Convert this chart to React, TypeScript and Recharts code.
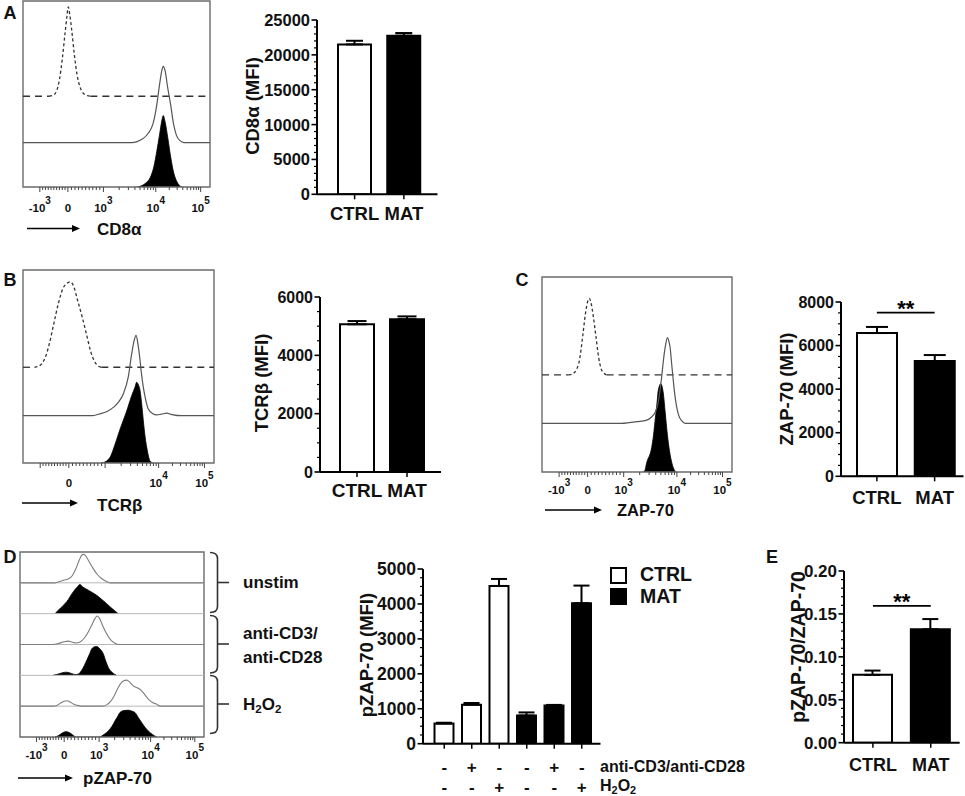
import React from 'react';
import {
  Area,
  Bar,
  BarChart,
  Cell,
  ComposedChart,
  ErrorBar,
  Line,
  ReferenceArea,
  ReferenceLine,
  XAxis,
  YAxis,
} from 'recharts';

const FONT = '"Liberation Sans", Arial, Helvetica, sans-serif';

// ---- bar chart values (mean, SEM) ----
const GROUPS = ['CTRL', 'MAT'];
const CD8A_MFI = [21500, 22750];
const CD8A_SEM = [520, 380];
const TCRB_MFI = [5065, 5235];
const TCRB_SEM = [110, 100];
const ZAP70_MFI = [6575, 5290];
const ZAP70_SEM = [280, 275];
const PZAP_GROUP = ['CTRL', 'CTRL', 'CTRL', 'MAT', 'MAT', 'MAT'];
const PZAP_MFI = [575, 1115, 4515, 805, 1095, 4020];
const PZAP_SEM = [25, 50, 200, 90, 15, 505];
const CD3_SIGNS = ['-', '+', '-', '-', '+', '-'];
const H2O2_SIGNS = ['-', '-', '+', '-', '-', '+'];
const RATIO = [0.079, 0.132];
const RATIO_SEM = [0.005, 0.012];

// ---- histogram x axis, in % of the plot width ----
const HX_MAJOR = [9, 24, 43, 71, 95];
const HX_LABELS = [['-10', '3'], ['0', ''], ['10', '3'], ['10', '4'], ['10', '5']];
const HX_MINOR: number[] = [];
for (let k = 1; k < 10; k++) {
  HX_MINOR.push(9 + (24 - 9) * k / 10);
  HX_MINOR.push(24 + (43 - 24) * k / 10);
}
for (const [a, b] of [[43, 71], [71, 95]]) {
  for (let k = 2; k < 10; k++) HX_MINOR.push(a + (b - a) * Math.log10(k));
}

// ---- histogram curves: [x %, height % of box] ----
const A_ISO = [[14, 0], [16, 0.5], [18, 3], [19.5, 9], [21, 20], [22.5, 34], [23.5, 43], [24.2, 48], [25, 44], [26, 36], [27.5, 22], [29, 11], [30.5, 5], [32, 2], [34, 0.5], [36, 0]];
const A_CTRL = [[0, 0], [58, 0], [61, 0.5], [64, 2], [67, 5], [69.5, 10], [71.5, 20], [73, 31], [74.2, 38.5], [75, 41], [76, 38.5], [77.3, 30], [79, 20], [80.5, 10], [82, 4], [84, 1], [86, 0], [100, 0]];
const A_MAT = [[61, 0], [63, 0.5], [65.5, 2], [68, 5], [70, 11], [71.5, 19], [73, 28], [74.3, 36], [75, 38.4], [76, 35], [77.5, 26], [79, 16], [80.5, 8], [82, 3.5], [83.5, 1], [85, 0]];

const B_ISO = [[6, 0], [8, 0.5], [10, 2], [12, 6], [14, 13], [16, 22], [18.5, 33], [21, 41], [23, 43.5], [24.6, 44.3], [26.5, 42], [28.5, 35], [31, 26], [33.5, 16], [35.5, 8], [37.5, 3], [39.5, 0.5], [41, 0]];
const B_CTRL = [[0, 0], [36, 0], [40, 0.9], [44, 2.2], [47.3, 4.3], [50, 7], [52.5, 11.3], [55.1, 20], [56.9, 32], [58.2, 39], [59.2, 41.6], [60.2, 37], [61.1, 30.4], [62, 22], [63, 14.7], [64.3, 8], [65.6, 3.5], [68, 1], [70, 0.4], [72.5, 0.8], [75.2, 1.3], [78, 0.6], [83, 0], [100, 0]];
const B_MAT = [[41, 0], [42, 0.2], [45.5, 2.8], [48.2, 9.7], [50.8, 17.5], [54.3, 27], [56.9, 34.9], [58.6, 39.2], [59.5, 41.8], [60.4, 40.5], [61.3, 37.5], [62.2, 30], [63, 21.9], [64, 13], [64.8, 8], [65.7, 3.5], [66.5, 1], [68.2, 0]];

const C_ISO = [[14, 0], [16, 0.5], [18, 2.5], [19.8, 8], [21.4, 19.6], [22.8, 31], [24, 37.5], [24.9, 39.2], [25.8, 37], [27, 30], [28.4, 19.6], [29.8, 9], [31, 3.5], [32.5, 1], [34, 0]];
const C_CTRL = [[0, 0], [42, 0], [46, 0.4], [50, 0.9], [55.1, 1.7], [57.5, 3.2], [59.5, 5.6], [61, 10], [62.1, 16.8], [63, 24], [63.9, 32.3], [65, 40], [66, 44], [66.8, 42], [67.4, 39.2], [68.2, 31], [69.1, 22], [70, 14], [70.9, 8.4], [72, 4], [73.5, 1.4], [75.3, 0], [100, 0]];
const C_MAT = [[53, 0], [54, 0.5], [55.1, 4.8], [57.7, 12.5], [58.7, 19], [59.5, 26.3], [60.4, 34], [61.2, 41.8], [62.5, 45.2], [63.3, 43.5], [63.9, 40], [64.8, 31], [65.6, 22.8], [66.5, 15], [67.4, 9.1], [69.1, 2.2], [70.5, 0]];

const D_CTRL_UNSTIM = [[0, 0], [19, 0], [21, 0.6], [24, 1.5], [26.5, 2.2], [28.5, 4], [30.4, 7.7], [32.3, 12.5], [33.5, 14.8], [34.4, 15.4], [35.5, 14.8], [37.5, 11.5], [39.8, 7.7], [42, 4.5], [44.5, 2.2], [47, 0.7], [49, 0], [100, 0]];
const D_MAT_UNSTIM = [[19, 0], [22, 3], [25.4, 6.5], [29, 11.9], [31, 14.3], [32.6, 15.8], [34, 14.5], [35.5, 13.6], [37.1, 12.7], [39.5, 11.3], [41.7, 9.9], [44.5, 7.6], [47.1, 5.4], [50, 2.8], [53.4, 0]];
const D_CTRL_CD3 = [[0, 0], [18, 0], [21, 0.6], [24, 1.5], [26.3, 1.8], [28.5, 1.2], [30.5, 0.8], [32.6, 1.3], [35, 3.5], [37.1, 6.7], [39, 10.5], [40.7, 14], [42, 15.4], [43.3, 14], [45, 10], [47.1, 5.8], [49.3, 2.5], [51.6, 0.7], [54, 0], [100, 0]];
const D_MAT_CD3 = [[18, 0], [20.5, 0.6], [23, 1.4], [25.4, 1.7], [28, 1], [30, 0.4], [31.7, 0.7], [34, 3.5], [36.2, 8], [37.8, 11.5], [39, 14.3], [40.5, 15.4], [41.7, 15.6], [43.5, 14.2], [45.3, 11.6], [46.7, 7.5], [48, 4.3], [50.2, 1.5], [52.5, 0]];
const D_CTRL_H2O2 = [[0, 0], [18, 0], [20, 0.4], [22, 1.6], [24, 2.6], [25.4, 2.9], [27, 2.4], [29, 1.2], [31.7, 0.3], [34, 0], [45, 0], [47.1, 0.7], [49, 2.3], [50.7, 4.7], [52, 7.2], [53.4, 10.1], [55, 12.6], [56.2, 13.6], [58, 14.1], [59.8, 12.8], [61.6, 11], [64, 9.8], [66.1, 8.3], [68, 6], [69.7, 3.8], [72, 2], [74.3, 1.1], [76, 0], [100, 0]];
const D_MAT_H2O2 = [[19, 0], [21, 0.8], [23, 2.2], [25, 2.9], [27, 2.3], [29, 0.8], [30.5, 0], [43.5, 0], [44.4, 0.5], [46, 1.6], [48, 3.3], [50, 5.8], [51.6, 8.7], [53, 11], [54.3, 13.2], [56.5, 14.3], [58.9, 14.5], [60.7, 14], [62.5, 13.2], [64.3, 10.5], [66.1, 7.8], [68, 5.2], [69.7, 3.3], [72, 1.4], [74.3, 0]];

const D_ROWS = [83.33, 66.67, 50, 33.33, 16.67];

type Curve = { pts: number[][]; base: number; kind: 'iso' | 'line' | 'fill'; color?: string; width?: number };

const toRows = (pts: number[][], base: number) => pts.map(([x, h]) => ({ x, y: base + h }));

function HistTick(props: any) {
  const { x, y, payload, labelDy, hide } = props;
  const idx = HX_MAJOR.indexOf(payload.value);
  const lab = idx >= 0 && !hide.includes(idx) ? HX_LABELS[idx] : null;
  return (
    <g>
      <line x1={x} x2={x} y1={y} y2={y + (idx >= 0 ? 5 : 3)} stroke="#444" strokeWidth={1} />
      {lab && (
        <text x={x} y={y + labelDy} textAnchor="middle" fontFamily={FONT} fontWeight="bold" fontSize={11.5} fill="#111">
          {lab[0]}
          {lab[1] && <tspan dy={-8} fontSize={10}>{lab[1]}</tspan>}
        </text>
      )}
    </g>
  );
}

function Histo({ left, top, w, h, curves, seps = [], labelDy, hide = [] }: any) {
  const AXH = 34;
  return (
    <div style={{ position: 'absolute', left: left - 1, top: top - 1 }}>
      <ComposedChart width={w + 2} height={h + 2 + AXH} margin={{ top: 1, right: 1, bottom: 0, left: 1 }}>
        <XAxis
          type="number"
          dataKey="x"
          domain={[0, 100]}
          ticks={[...HX_MAJOR, ...HX_MINOR]}
          interval={0}
          height={AXH}
          axisLine={false}
          tickLine={false}
          tickSize={0}
          tickMargin={0}
          allowDataOverflow
          tick={(p: any) => <HistTick {...p} labelDy={labelDy} hide={hide} />}
        />
        <YAxis type="number" domain={[0, 100]} hide allowDataOverflow />
        {seps.map((s: number) => (
          <ReferenceLine key={s} y={s} stroke="#b8b8b8" strokeWidth={1} />
        ))}
        {curves.map((c: Curve, i: number) => {
          if (c.kind === 'fill') {
            return (
              <Area
                key={i}
                data={toRows(c.pts, c.base)}
                dataKey="y"
                type="monotone"
                baseValue={c.base}
                fill="#000"
                fillOpacity={1}
                stroke="#000"
                strokeWidth={0.8}
                dot={false}
                activeDot={false}
                isAnimationActive={false}
              />
            );
          }
          if (c.kind === 'iso') {
            const first = c.pts[0][0];
            const last = c.pts[c.pts.length - 1][0];
            return [
              <Line key={`${i}a`} data={toRows([[0, 0], [first, 0]], c.base)} dataKey="y" type="linear" stroke="#333" strokeWidth={1.3} strokeDasharray="7 5" dot={false} activeDot={false} isAnimationActive={false} />,
              <Line key={`${i}b`} data={toRows(c.pts, c.base)} dataKey="y" type="monotone" stroke="#333" strokeWidth={1.3} strokeDasharray="3 2.5" dot={false} activeDot={false} isAnimationActive={false} />,
              <Line key={`${i}c`} data={toRows([[last, 0], [100, 0]], c.base)} dataKey="y" type="linear" stroke="#333" strokeWidth={1.3} strokeDasharray="7 5" dot={false} activeDot={false} isAnimationActive={false} />,
            ];
          }
          return (
            <Line
              key={i}
              data={toRows(c.pts, c.base)}
              dataKey="y"
              type="monotone"
              stroke={c.color || '#555'}
              strokeWidth={c.width || 1.2}
              dot={false}
              activeDot={false}
              isAnimationActive={false}
            />
          );
        })}
        <ReferenceArea x1={0} x2={100} y1={0} y2={100} fill="none" stroke="#6b6b6b" strokeWidth={1.4} ifOverflow="visible" />
      </ComposedChart>
    </div>
  );
}

function BarPanel(props: any) {
  const { ax, yTop, y0, ex, max, major, minor, rows, barSize, pad, capW, yFont, digits, xTick, sigY, xh = 40 } = props;
  const YW = 70;
  const MT = 14;
  const MR = 4;
  const ticks: number[] = [];
  const n = Math.round(max / minor);
  for (let i = 0; i <= n; i++) ticks.push(+(i * minor).toFixed(6));
  const isMajor = (v: number) => Math.abs(v / major - Math.round(v / major)) < 1e-6;
  return (
    <div style={{ position: 'absolute', left: ax - YW, top: yTop - MT }}>
      <BarChart
        width={YW + ex - ax + MR}
        height={MT + y0 - yTop + xh}
        data={rows}
        margin={{ top: MT, right: MR, bottom: 0, left: 0 }}
      >
        <XAxis
          dataKey="name"
          height={xh}
          padding={{ left: pad[0], right: pad[1] }}
          axisLine={{ stroke: '#000', strokeWidth: 2 }}
          tickLine={{ stroke: '#000', strokeWidth: 1.5 }}
          tickSize={5}
          tickMargin={0}
          interval={0}
          tick={xTick}
        />
        <YAxis
          width={YW}
          type="number"
          domain={[0, max]}
          ticks={ticks}
          interval={0}
          tickSize={0}
          tickMargin={0}
          allowDataOverflow
          axisLine={{ stroke: '#000', strokeWidth: 2 }}
          tick={(p: any) => {
            const v = p.payload.value;
            const m = isMajor(v);
            return (
              <g>
                <line x1={p.x} x2={p.x - (m ? 5.5 : 3)} y1={p.y} y2={p.y} stroke="#000" strokeWidth={m ? 1.6 : 1.2} />
                {m && (
                  <text x={p.x - 7} y={p.y} dy="0.36em" textAnchor="end" fontFamily={FONT} fontWeight="bold" fontSize={yFont} fill="#111">
                    {v.toFixed(digits)}
                  </text>
                )}
              </g>
            );
          }}
        />
        <Bar dataKey="v" barSize={barSize} stroke="#000" strokeWidth={2} isAnimationActive={false}>
          {rows.map((r: any, i: number) => (
            <Cell key={i} fill={r.group === 'CTRL' ? '#fff' : '#000'} />
          ))}
          {/* ErrorBar width is the half-length of the cap */}
          <ErrorBar dataKey="e" width={capW / 2} stroke="#000" strokeWidth={2} direction="y" />
        </Bar>
        {sigY !== undefined && (
          <ReferenceLine
            segment={[{ x: rows[0].name, y: sigY }, { x: rows[1].name, y: sigY }]}
            stroke="#000"
            strokeWidth={1.8}
            label={{ value: '**', position: 'top', offset: -3, fontSize: 22, fontWeight: 'bold', fill: '#000', fontFamily: FONT }}
          />
        )}
      </BarChart>
    </div>
  );
}

const nameTick = (dy: number, size: number) => (p: any) => (
  <text x={p.x} y={p.y - 5 + dy} dy="0.36em" textAnchor="middle" fontFamily={FONT} fontWeight="bold" fontSize={size} fill="#111">
    {p.payload.value}
  </text>
);

const signTick = (p: any) => (
  <g fontFamily={FONT} fontWeight="bold" fontSize={17} fill="#111">
    <text x={p.x} y={p.y + 17.7} dy="0.36em" textAnchor="middle">{CD3_SIGNS[p.index]}</text>
    <text x={p.x} y={p.y + 37.7} dy="0.36em" textAnchor="middle">{H2O2_SIGNS[p.index]}</text>
  </g>
);

function Txt({ x, y, size, children, anchor = 'start', rot = false }: any) {
  const tx = anchor === 'middle' ? '-50%' : anchor === 'end' ? '-100%' : '0';
  return (
    <div
      style={{
        position: 'absolute',
        left: x,
        top: y,
        transform: rot ? 'translate(-50%, -50%) rotate(-90deg)' : `translate(${tx}, -50%)`,
        fontFamily: FONT,
        fontWeight: 700,
        fontSize: size,
        lineHeight: 1,
        whiteSpace: 'nowrap',
        color: '#111',
      }}
    >
      {children}
    </div>
  );
}

const Sub = ({ children }: any) => <span style={{ fontSize: '0.68em', verticalAlign: '-0.3em' }}>{children}</span>;

const twoRows = (vals: number[], sems: number[]) =>
  GROUPS.map((g, i) => ({ name: g, group: g, v: vals[i], e: [0, sems[i]] }));

const pzapRows = PZAP_GROUP.map((g, i) => ({ name: `${g}${i}`, group: g, v: PZAP_MFI[i], e: [0, PZAP_SEM[i]] }));

function arrow(x1: number, x2: number, y: number) {
  return (
    <g key={`${x1}-${y}`}>
      <line x1={x1} y1={y} x2={x2 - 6} y2={y} stroke="#000" strokeWidth={1.6} />
      <polygon points={`${x2},${y} ${x2 - 8},${y - 3.5} ${x2 - 8},${y + 3.5}`} fill="#000" />
    </g>
  );
}

function bracket(t: number, m: number, b: number) {
  const xl = 210;
  const xv = 217.5;
  return (
    <g key={t} fill="none" stroke="#333" strokeWidth={1.6}>
      <path d={`M ${xl} ${t} Q ${xv} ${t} ${xv} ${t + 6} L ${xv} ${b - 6} Q ${xv} ${b} ${xl} ${b}`} />
      <line x1={xv} y1={m} x2={229} y2={m} />
    </g>
  );
}

export default function App() {
  return (
    <div style={{ position: 'absolute', left: 0, top: 0, width: 965, height: 796, background: '#fff', overflow: 'hidden' }}>
      {/* panel A */}
      <Histo
        left={23} top={1} w={187} h={185} labelDy={25}
        curves={[
          { pts: A_ISO, base: 48.8, kind: 'iso' },
          { pts: A_CTRL, base: 23.9, kind: 'line' },
          { pts: A_MAT, base: 0, kind: 'fill' },
        ]}
      />
      <BarPanel
        ax={316.5} yTop={20} y0={194.3} ex={437} max={25000} major={5000} minor={1000}
        rows={twoRows(CD8A_MFI, CD8A_SEM)} barSize={33} pad={[13, 9]} capW={17} yFont={16.5} digits={0}
        xTick={nameTick(19, 18.5)}
      />

      {/* panel B */}
      <Histo
        left={23} top={270} w={191} h={192} labelDy={24} hide={[0, 2]}
        curves={[
          { pts: B_ISO, base: 49.6, kind: 'iso' },
          { pts: B_CTRL, base: 24.5, kind: 'line' },
          { pts: B_MAT, base: 0, kind: 'fill' },
        ]}
      />
      <BarPanel
        ax={320} yTop={296.7} y0={471.7} ex={441} max={6000} major={2000} minor={500}
        rows={twoRows(TCRB_MFI, TCRB_SEM)} barSize={34} pad={[12, 9]} capW={19} yFont={16} digits={0}
        xTick={nameTick(18.5, 19)}
      />

      {/* panel C */}
      <Histo
        left={542} top={277} w={190} h={194} labelDy={22}
        curves={[
          { pts: C_ISO, base: 49.8, kind: 'iso' },
          { pts: C_CTRL, base: 24.9, kind: 'line' },
          { pts: C_MAT, base: 0, kind: 'fill' },
        ]}
      />
      <BarPanel
        ax={840.5} yTop={301.7} y0={476} ex={963} max={8000} major={2000} minor={500}
        rows={twoRows(ZAP70_MFI, ZAP70_SEM)} barSize={40} pad={[7, 0]} capW={22} yFont={16} digits={0}
        xTick={nameTick(21, 18.5)} sigY={7514}
      />

      {/* panel D */}
      <Histo
        left={20} top={552} w={184} h={184} labelDy={22} seps={D_ROWS}
        curves={[
          { pts: D_CTRL_UNSTIM, base: 83.33, kind: 'line', color: '#7d7d7d', width: 1.1 },
          { pts: D_MAT_UNSTIM, base: 66.67, kind: 'fill' },
          { pts: D_CTRL_CD3, base: 50, kind: 'line', color: '#7d7d7d', width: 1.1 },
          { pts: D_MAT_CD3, base: 33.33, kind: 'fill' },
          { pts: D_CTRL_H2O2, base: 16.67, kind: 'line', color: '#7d7d7d', width: 1.1 },
          { pts: D_MAT_H2O2, base: 0, kind: 'fill' },
        ]}
      />
      <BarPanel
        ax={422.5} yTop={569.3} y0={744} ex={600} max={5000} major={1000} minor={250}
        rows={pzapRows} barSize={19} pad={[7.5, 5]} capW={16} yFont={17.5} digits={0}
        xTick={signTick} xh={52}
      />

      {/* panel E */}
      <BarPanel
        ax={844.3} yTop={571} y0={742.7} ex={960} max={0.2} major={0.05} minor={0.01}
        rows={twoRows(RATIO, RATIO_SEM)} barSize={39} pad={[0, 0]} capW={16} yFont={17} digits={2}
        xTick={nameTick(22, 18)} sigY={0.1593}
      />

      {/* arrows and brackets */}
      <svg width={965} height={796} style={{ position: 'absolute', left: 0, top: 0, pointerEvents: 'none' }}>
        {arrow(27, 80, 228.5)}
        {arrow(22, 78, 503)}
        {arrow(545, 602, 510)}
        {arrow(18, 73, 778)}
        {bracket(552.5, 582.5, 612.5)}
        {bracket(615.5, 644, 673)}
        {bracket(675.5, 704, 733.5)}
      </svg>

      {/* panel letters */}
      <Txt x={10} y={13} size={18} anchor="middle">A</Txt>
      <Txt x={10} y={280} size={18} anchor="middle">B</Txt>
      <Txt x={522} y={280} size={18} anchor="middle">C</Txt>
      <Txt x={10} y={557} size={18} anchor="middle">D</Txt>
      <Txt x={772} y={557} size={18} anchor="middle">E</Txt>

      {/* histogram axis titles */}
      <Txt x={97} y={229} size={17}>CD8α</Txt>
      <Txt x={97} y={505} size={17}>TCRβ</Txt>
      <Txt x={617} y={510} size={16.5}>ZAP-70</Txt>
      <Txt x={83} y={778} size={17}>pZAP-70</Txt>

      {/* bar chart y titles */}
      <Txt x={253} y={106} size={18.5} rot>CD8α (MFI)</Txt>
      <Txt x={262} y={383} size={18.5} rot>TCRβ (MFI)</Txt>
      <Txt x={787} y={389} size={18.5} rot>ZAP-70 (MFI)</Txt>
      <Txt x={367} y={655} size={18.5} rot>pZAP-70 (MFI)</Txt>
      <Txt x={799} y={647} size={19.5} rot>pZAP-70/ZAP-70</Txt>

      {/* D stimulation labels */}
      <Txt x={243} y={582} size={17}>unstim</Txt>
      <Txt x={243} y={633} size={17}>anti-CD3/</Txt>
      <Txt x={243} y={657} size={17}>anti-CD28</Txt>
      <Txt x={243} y={706} size={17}>H<Sub>2</Sub>O<Sub>2</Sub></Txt>
      <Txt x={600} y={767} size={16}>anti-CD3/anti-CD28</Txt>
      <Txt x={600} y={787} size={16}>H<Sub>2</Sub>O<Sub>2</Sub></Txt>

      {/* D legend */}
      <div style={{ position: 'absolute', left: 610, top: 567, width: 13, height: 13, border: '2px solid #000', background: '#fff' }} />
      <div style={{ position: 'absolute', left: 610, top: 588, width: 17, height: 17, background: '#000' }} />
      <Txt x={640} y={575} size={19.5}>CTRL</Txt>
      <Txt x={640} y={597} size={19.5}>MAT</Txt>
    </div>
  );
}
